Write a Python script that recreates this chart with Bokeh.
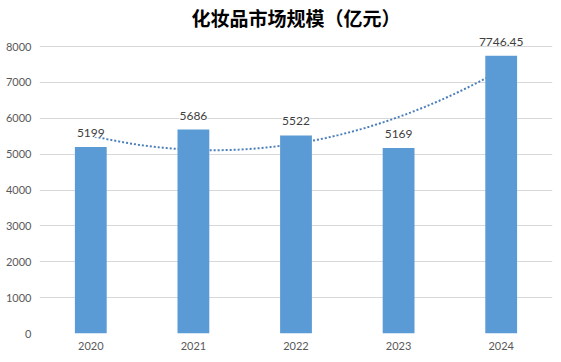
import numpy as np
from bokeh.plotting import figure
from bokeh.models import ColumnDataSource, FixedTicker, Range1d, LabelSet
from bokeh.core.properties import value
from bokeh.embed import file_html
from bokeh.resources import INLINE

years = ["2020", "2021", "2022", "2023", "2024"]
market = [5199, 5686, 5522, 5169, 7746.45]
labels = ["5199", "5686", "5522", "5169", "7746.45"]
y_ticks = [0, 1000, 2000, 3000, 4000, 5000, 6000, 7000, 8000]
title_text = "化妆品市场规模（亿元）"

xs = list(range(len(years)))

# polynomial (order 2) trendline, like the spreadsheet's
coef = np.polyfit(xs, market, 2)
tx = np.linspace(0, len(years) - 1, 200)
ty = np.polyval(coef, tx)

# frame extends a bit above the 8000 gridline so the top data label is not clipped
p = figure(width=561, height=362, output_backend="svg", toolbar_location=None,
           x_range=Range1d(-0.5, len(years) - 0.5), y_range=Range1d(0, 8420),
           min_border_left=39, min_border_right=9, min_border_top=30, min_border_bottom=29)

p.title.text = title_text
p.title.align = "center"
p.title.text_font = "Noto Sans CJK SC"
p.title.text_font_style = "bold"
p.title.text_font_size = "19px"
p.title.text_color = "#000000"
p.title.standoff = 2

p.outline_line_color = None
p.background_fill_color = "white"
p.border_fill_color = "white"

# trendline behind bars
p.line(tx, ty, line_color="#4A7EBB", line_width=2, line_dash="2 2")

src = ColumnDataSource(dict(x=xs, top=market, label=labels))
p.vbar(x="x", top="top", width=0.31, source=src, fill_color="#5B9BD5", line_color=None)
lbls = LabelSet(x="x", y="top", text="label", source=src, text_align="center", text_baseline="bottom",
                y_offset=10, text_font=value("Lato"), text_font_size="12px", text_color="#404040",
                background_fill_color="white")
p.add_layout(lbls)

p.xaxis.ticker = FixedTicker(ticks=xs)
p.xaxis.major_label_overrides = {i: y for i, y in enumerate(years)}
p.yaxis.ticker = FixedTicker(ticks=y_ticks)
for ax in (p.xaxis, p.yaxis):
    ax.axis_line_color = None
    ax.major_tick_line_color = None
    ax.minor_tick_line_color = None
    ax.major_tick_in = 0
    ax.major_tick_out = 0
    ax.minor_tick_in = 0
    ax.minor_tick_out = 0
    ax.major_label_text_font = "Lato"
    ax.major_label_text_font_size = "11px"
    ax.major_label_text_color = "#595959"
p.xaxis.major_label_standoff = 8
p.yaxis.major_label_standoff = 8

p.xgrid.grid_line_color = None
p.ygrid.ticker = FixedTicker(ticks=y_ticks)
p.ygrid.grid_line_color = "#D9D9D9"
p.ygrid.grid_line_width = 1

open("out.html", "w").write(file_html(p, INLINE))
